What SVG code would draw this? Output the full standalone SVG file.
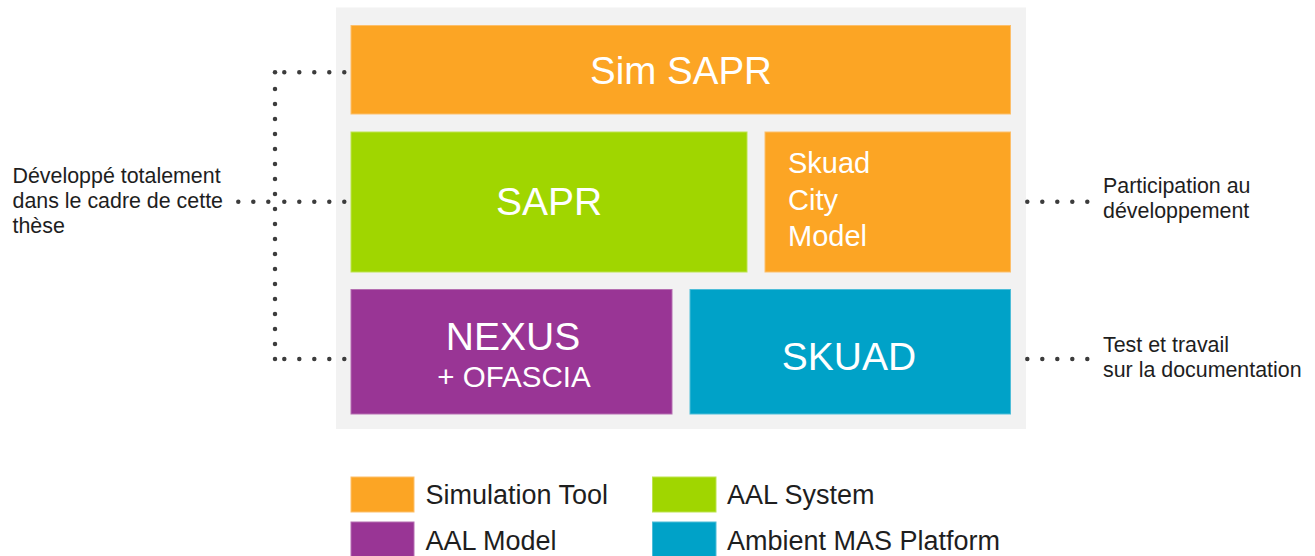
<svg xmlns="http://www.w3.org/2000/svg" width="1315" height="556" viewBox="0 0 1315 556">
  <style>
    text { font-family: "Liberation Sans", Arimo, Arial, Helvetica, sans-serif; }
    .box-txt { fill: #ffffff; }
    .side-txt { fill: #1e1e1e; font-size: 21.4px; }
    .leg-txt { fill: #1e1e1e; font-size: 27px; }
    .dots { fill: none; stroke: #3c3c3c; stroke-width: 4.5; stroke-linecap: round; stroke-dasharray: 0 15; }
    .dot { fill: #3c3c3c; }
    .orange { fill: #FCA524; stroke: #FDBF6A; stroke-width: 1; }
    .green { fill: #A0D600; stroke: #BDE34F; stroke-width: 1; }
    .purple { fill: #993595; stroke: #B56FB1; stroke-width: 1; }
    .blue { fill: #00A2C8; stroke: #4DBDD8; stroke-width: 1; }
  </style>
  <rect width="1315" height="556" fill="#ffffff"/>
  <rect id="container" x="336" y="7.5" width="690" height="421.5" fill="#F2F2F2"/>

  <g id="node-simsapr">
    <rect class="orange" x="351" y="25.5" width="659.5" height="88.5"/>
    <text class="box-txt" x="681" y="83.5" font-size="38.5" text-anchor="middle">Sim SAPR</text>
  </g>
  <g id="node-sapr">
    <rect class="green" x="351" y="132" width="396" height="140"/>
    <text class="box-txt" x="549" y="215" font-size="39" text-anchor="middle">SAPR</text>
  </g>
  <g id="node-skuadcity">
    <rect class="orange" x="765" y="132" width="245.5" height="140"/>
    <text class="box-txt" x="788" y="173" font-size="29">Skuad</text>
    <text class="box-txt" x="788" y="209.5" font-size="29">City</text>
    <text class="box-txt" x="788" y="246" font-size="29">Model</text>
  </g>
  <g id="node-nexus">
    <rect class="purple" x="351" y="289.5" width="321" height="124.5"/>
    <text class="box-txt" x="513" y="349.5" font-size="39" text-anchor="middle">NEXUS</text>
    <text class="box-txt" x="514" y="386.5" font-size="29.5" text-anchor="middle">+ OFASCIA</text>
  </g>
  <g id="node-skuad">
    <rect class="blue" x="690" y="289.5" width="320.5" height="124.5"/>
    <text class="box-txt" x="849" y="369.5" font-size="39" text-anchor="middle">SKUAD</text>
  </g>

  <g id="connectors">
    <circle class="dot" cx="275" cy="72.3" r="2.25"/>
    <path class="dots" d="M344.3 72.3 H283.8"/>
    <path class="dots" d="M275 359 V88.5"/>
    <path class="dots" d="M344.3 201.7 H283.8"/>
    <path class="dots" d="M268.3 201.7 H237.8"/>
    <path class="dots" d="M344.3 359 H283.8"/>
    <path class="dots" d="M1027.3 201.7 H1087.8"/>
    <path class="dots" d="M1027.3 359 H1087.8"/>
  </g>

  <g id="label-left">
    <text class="side-txt" x="12.5" y="182.7">Développé totalement</text>
    <text class="side-txt" x="12.5" y="208">dans le cadre de cette</text>
    <text class="side-txt" x="12.5" y="233.3">thèse</text>
  </g>
  <g id="label-right-top">
    <text class="side-txt" x="1103" y="193.3">Participation au</text>
    <text class="side-txt" x="1103" y="218.3">développement</text>
  </g>
  <g id="label-right-bottom">
    <text class="side-txt" x="1103" y="351.7">Test et travail</text>
    <text class="side-txt" x="1103" y="376.7">sur la documentation</text>
  </g>

  <g id="legend">
    <rect class="orange" x="351" y="477" width="63" height="35"/>
    <text class="leg-txt" x="425.5" y="504.3">Simulation Tool</text>
    <rect class="purple" x="351" y="522" width="63" height="35"/>
    <text class="leg-txt" x="425.5" y="549.5">AAL Model</text>
    <rect class="green" x="652.5" y="477" width="63.5" height="35"/>
    <text class="leg-txt" x="727" y="504.3">AAL System</text>
    <rect class="blue" x="652.5" y="522" width="63.5" height="35"/>
    <text class="leg-txt" x="727" y="549.5">Ambient MAS Platform</text>
  </g>
</svg>
